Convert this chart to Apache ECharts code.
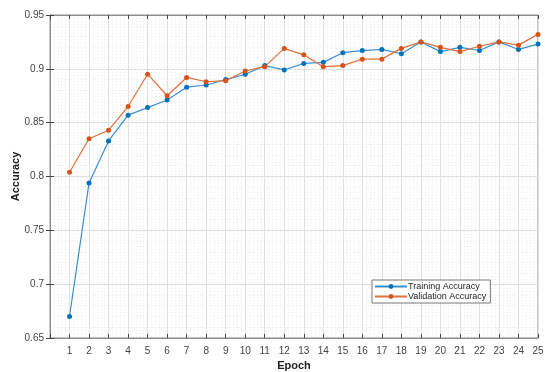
<!DOCTYPE html>
<html><head><meta charset="utf-8">
<script src="https://cdn.jsdelivr.net/npm/echarts@6/dist/echarts.min.js"></script>
<style>html,body{margin:0;padding:0;background:#fff}#c{width:545px;height:372px}</style>
</head><body><div id="c"></div>
<script>
var epochs = [1,2,3,4,5,6,7,8,9,10,11,12,13,14,15,16,17,18,19,20,21,22,23,24,25];
var trainAcc = [0.670,0.794,0.833,0.857,0.864,0.871,0.883,0.885,0.890,0.895,0.903,0.899,0.905,0.906,0.915,0.917,0.918,0.914,0.925,0.916,0.920,0.917,0.925,0.918,0.923];
var valAcc = [0.804,0.835,0.843,0.865,0.895,0.875,0.892,0.888,0.889,0.898,0.902,0.919,0.913,0.902,0.903,0.909,0.909,0.919,0.925,0.920,0.916,0.921,0.925,0.922,0.932];
var yTicks = [0.65,0.7,0.75,0.8,0.85,0.9,0.95];

function pairs(xs, ys){ return xs.map(function(x,i){return [x, ys[i]];}); }
var font = 'Liberation Sans, Arial, sans-serif';
var chart = echarts.init(document.getElementById('c'), null, {renderer:'canvas'});
var gridLine = {show:true, lineStyle:{color:'#e0e0e0', width:1}};
var minorGrid = {show:true, lineStyle:{color:'#ececec', width:1, type:[1,2]}};
chart.setOption({
  animation:false,
  grid:{left:50, top:15, right:7, bottom:34, containLabel:false, outerBoundsMode:'none', show:true, borderColor:'#8c8c8c', borderWidth:1},
  legend:{
    data:['Training Accuracy','Validation Accuracy'],
    orient:'vertical', left:372, top:280, itemGap:1, itemWidth:32, itemHeight:6,
    backgroundColor:'#fff', borderColor:'#555', borderWidth:0.8, padding:[2,4,2,2],
    textStyle:{fontFamily:font, fontSize:9, color:'#222', padding:[0,0,0,-4]}
  },
  xAxis:[{
    type:'value', min:0, max:25, interval:1,
    name:'Epoch', nameLocation:'middle', nameGap:22, nameMoveOverlap:false,
    nameTextStyle:{fontFamily:font, fontWeight:'bold', fontSize:11, color:'#222'},
    axisLine:{show:true, lineStyle:{color:'#8c8c8c'}},
    axisTick:{show:true, inside:true, length:4, lineStyle:{color:'#444'}},
    axisLabel:{fontFamily:font, fontSize:10, color:'#444', margin:8, formatter:function(v){return v===0?'':String(v);}},
    splitLine:gridLine,
    minorTick:{show:false, splitNumber:5},
    minorSplitLine:minorGrid
  },{
    type:'value', min:0, max:25, interval:1, position:'top',
    axisLine:{show:true, lineStyle:{color:'#8c8c8c'}},
    axisTick:{show:true, inside:true, length:4, lineStyle:{color:'#444'}},
    axisLabel:{show:false}, splitLine:{show:false}
  }],
  yAxis:[{
    type:'value', min:yTicks[0], max:yTicks[yTicks.length-1], interval:0.05,
    name:'Accuracy', nameLocation:'middle', nameGap:29, nameMoveOverlap:false,
    nameTextStyle:{fontFamily:font, fontWeight:'bold', fontSize:11, color:'#222'},
    axisLine:{show:true, lineStyle:{color:'#8c8c8c'}},
    axisTick:{show:true, inside:true, length:4, lineStyle:{color:'#444'}},
    axisLabel:{fontFamily:font, fontSize:10, color:'#444', margin:6, formatter:function(v){return String(+v.toFixed(2));}},
    splitLine:gridLine,
    minorTick:{show:false, splitNumber:5},
    minorSplitLine:minorGrid
  },{
    type:'value', min:yTicks[0], max:yTicks[yTicks.length-1], interval:0.05, position:'right',
    axisLine:{show:true, lineStyle:{color:'#8c8c8c'}},
    axisTick:{show:true, inside:true, length:4, lineStyle:{color:'#444'}},
    axisLabel:{show:false}, splitLine:{show:false}
  }],
  series:[{
    name:'Training Accuracy', type:'line', data:pairs(epochs, trainAcc),
    symbol:'circle', symbolSize:5, color:'#0072BD',
    lineStyle:{width:1.2, color:'#3a8fd0'}, itemStyle:{color:'#0072BD'}
  },{
    name:'Validation Accuracy', type:'line', data:pairs(epochs, valAcc),
    symbol:'circle', symbolSize:5, color:'#D95319',
    lineStyle:{width:1.2, color:'#e0703c'}, itemStyle:{color:'#D95319'}
  }]
});
</script></body></html>
